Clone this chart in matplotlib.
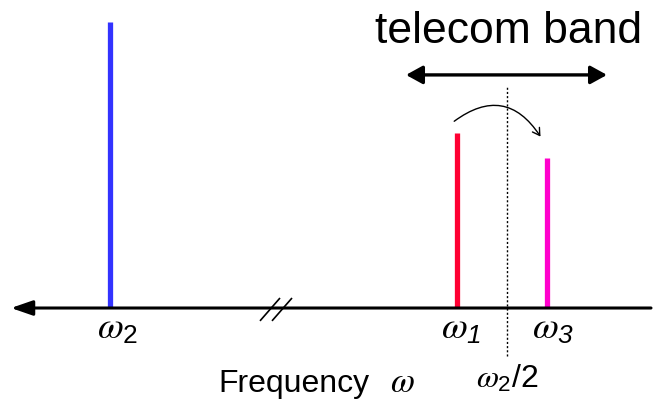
import numpy as np
import matplotlib.pyplot as plt
from matplotlib.patches import FancyArrowPatch

plt.rcParams['font.family'] = ['Liberation Sans', 'DejaVu Sans']
plt.rcParams['mathtext.fontset'] = 'custom'
plt.rcParams['mathtext.it'] = 'STIXGeneral:italic'
plt.rcParams['mathtext.rm'] = 'Liberation Sans'
plt.rcParams['mathtext.sf'] = 'Liberation Sans:italic'

# spectral lines (x in diagram frequency units, y relative amplitude)
line_labels = [r'$\omega_{\mathrm{2}}$', r'$\omega_{\mathsf{1}}$', r'$\omega_{\mathsf{3}}$']
line_freqs = [110, 457, 547]
line_amps = [1.0, 0.61, 0.525]
line_colors = ['#3333ff', '#ff0033', '#ff00cc']
label_x = [118, 461, 553]

half_pump = 507          # omega_2 / 2
band = [406, 607]        # telecom band extent
axis_break = 276

fig = plt.figure(figsize=(6.55, 4.02), dpi=100)
ax = fig.add_axes([0, 0, 1, 1])
ax.set_xlim(0, 655)
ax.set_ylim(-0.325, 1.080)
ax.axis('off')


def py(p):
    # pixel row of the reference -> amplitude units
    return (309 - p) / 286.0


# frequency axis with arrow to the left
ax.annotate('', xy=(11, 0), xytext=(651, 0),
            arrowprops=dict(arrowstyle='-|>,head_length=1.3,head_width=0.45',
                            lw=2.2, color='black', shrinkA=0, shrinkB=0))

# axis break marks
for dx in (-6, 6):
    ax.plot([axis_break + dx - 10, axis_break + dx + 10], [-0.045, 0.035],
            color='black', lw=1.2, solid_capstyle='butt')

# spectral lines
for f, a, c in zip(line_freqs, line_amps, line_colors):
    ax.vlines(f, 0, a, colors=c, lw=3.8)

for x, lab in zip(label_x, line_labels):
    ax.text(x, py(339), lab, fontsize=27, ha='center', va='baseline')

# omega_2 / 2 dotted marker
ax.plot([half_pump, half_pump], [py(357), py(88)], color='black', lw=1, ls=(0, (1.5, 1.5)))
ax.text(half_pump, py(388), r'$\omega_{\mathrm{2}}\mathrm{/2}$', fontsize=23,
        ha='center', va='baseline')

ax.text(218, py(392), 'Frequency', fontsize=23, ha='left', va='baseline')
ax.text(390, py(392), r'$\omega$', fontsize=25, ha='left', va='baseline')

# telecom band
ax.annotate('', xy=(band[0], py(76)), xytext=(band[1], py(76)),
            arrowprops=dict(arrowstyle='<|-|>,head_length=1.0,head_width=0.55',
                            lw=2.4, color='black', shrinkA=0, shrinkB=0))
ax.text(509, py(43), 'telecom band', fontsize=32, ha='center', va='baseline')

# conversion arrow
arr = FancyArrowPatch((452, py(124)), (542, py(140)), connectionstyle='arc3,rad=-0.55',
                      arrowstyle='->,head_length=5,head_width=3', lw=1.0, color='black')
ax.add_patch(arr)

fig.savefig('out.png', dpi=100)
